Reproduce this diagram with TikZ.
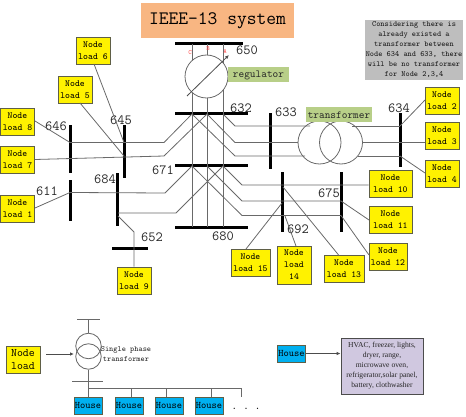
\documentclass[tikz,border=0pt]{standalone}
\usepackage{fontspec}
\usepackage{tikz}
\usetikzlibrary{arrows.meta}
\newcommand{\simfont}{\ttfamily}
\newfontfamily\timesfont{Liberation Serif}
\newcommand{\fsize}[2]{\fontsize{#1}{#2}\selectfont}
\definecolor{titleorange}{RGB}{248,182,130}
\definecolor{tagGreen}{RGB}{184,207,136}
\definecolor{noteGray}{RGB}{190,190,190}
\definecolor{houseBlue}{RGB}{0,176,240}
\definecolor{listPurple}{RGB}{208,200,224}
\definecolor{wire}{RGB}{105,105,105}
\definecolor{boxedge}{RGB}{95,95,70}

\begin{document}
\begin{tikzpicture}[x=1pt,y=-1pt,
    hbar/.style={fill=black,inner sep=0pt,minimum height=3pt},
    vbar/.style={fill=black,inner sep=0pt,minimum width=3pt},
    busno/.style={font=\simfont\fsize{14}{14},text=black!85,inner sep=0pt},
    load/.style={draw=boxedge,thick,fill=yellow,inner sep=0pt,align=center,minimum height=27pt,font=\simfont\fsize{9.3}{12}},
    tag/.style={fill=tagGreen,inner sep=0pt,minimum height=15pt,font=\simfont\fsize{10.8}{11},text=black!85},
    house/.style={draw=boxedge,fill=houseBlue,inner sep=0pt,minimum width=28pt,minimum height=17pt,font=\simfont\fsize{10}{10}},
    wire/.style={draw=wire,line width=0.8pt},
    arr/.style={draw=black!70,line width=0.8pt,-{Latex[length=4pt,width=3.5pt]}}]
    \useasboundingbox (0,0) rectangle (466,417);

    % title and note
    \node[fill=titleorange,inner sep=0pt,minimum width=153pt,minimum height=35pt,font=\simfont\fsize{19}{20}] (title) at (217.5,20.5) {IEEE-13 system};
    \node[fill=noteGray,inner sep=0pt,minimum width=98pt,minimum height=60pt,align=center,font=\simfont\fsize{7.9}{10},text=black!90] (note) at (414,50) {Considering there is\\already existed a\\transformer between\\Node 634 and 633, there\\will be no transformer\\for Node 2,3,4};

    % buses
    \node[hbar,minimum width=68pt] (b650) at (209,44) {};
    \node[hbar,minimum width=73pt] (b632) at (211.5,114) {};
    \node[hbar,minimum width=73pt] (b671) at (211.5,166) {};
    \node[hbar,minimum width=73pt] (b680) at (211.5,227) {};
    \node[hbar,minimum width=36pt] (b652) at (130,248) {};
    \node[vbar,minimum height=56pt] (b633) at (270,141) {};
    \node[vbar,minimum height=54pt] (b634) at (400,140) {};
    \node[vbar,minimum height=60pt] (b692) at (282,202) {};
    \node[vbar,minimum height=60pt] (b675) at (341,202) {};
    \node[vbar,minimum height=48pt] (b646) at (70,149) {};
    \node[vbar,minimum height=41pt] (b611) at (70,200.5) {};
    \node[vbar,minimum height=53pt] (b645) at (124,151.5) {};
    \node[vbar,minimum height=53pt] (b684) at (117,199.5) {};

    % bus numbers
    \node[busno] (n650) at (247,50) {650};
    \node[busno] (n632) at (241,108) {632};
    \node[busno] (n633) at (286,112) {633};
    \node[busno] (n634) at (399,108) {634};
    \node[busno] (n671) at (163,170) {671};
    \node[busno] (n680) at (223,236) {680};
    \node[busno] (n675) at (329,193) {675};
    \node[busno] (n692) at (298,229) {692};
    \node[busno] (n646) at (56,126) {646};
    \node[busno] (n645) at (121,120) {645};
    \node[busno] (n611) at (47,191) {611};
    \node[busno] (n684) at (105,179) {684};
    \node[busno] (n652) at (152,237) {652};

    % node loads
    \node[load,minimum width=34pt] (l1) at (17.5,208.5) {Node\\load 1};
    \node[load,minimum width=34pt] (l2) at (442,100.5) {Node\\load 2};
    \node[load,minimum width=34pt] (l3) at (442,136) {Node\\load 3};
    \node[load,minimum width=34pt] (l4) at (442,173.5) {Node\\load 4};
    \node[load,minimum width=34pt] (l5) at (75,89.5) {Node\\load 5};
    \node[load,minimum width=34pt] (l6) at (93,50.5) {Node\\load 6};
    \node[load,minimum width=34pt] (l7) at (17.5,159.5) {Node\\load 7};
    \node[load,minimum width=34pt] (l8) at (17.5,122) {Node\\load 8};
    \node[load,minimum width=34pt] (l9) at (134,280.5) {Node\\load 9};
    \node[load,minimum width=43pt] (l10) at (390.5,184) {Node\\load 10};
    \node[load,minimum width=43pt] (l11) at (390.5,219.5) {Node\\load 11};
    \node[load,minimum width=38pt] (l12) at (388,256.5) {Node\\load 12};
    \node[load,minimum width=40pt] (l13) at (344,269) {Node\\load 13};
    \node[load,minimum width=34pt,minimum height=38pt] (l14) at (294,265) {Node\\load\\14};
    \node[load,minimum width=39pt] (l15) at (250.5,262.5) {Node\\load 15};

    % phase and junction points
    \coordinate (pc) at (192,44);
    \coordinate (pb) at (207,44);
    \coordinate (pa) at (223,44);
    \coordinate (qc) at (192,227);
    \coordinate (qb) at (207,227);
    \coordinate (qa) at (223,227);
    \coordinate (j1c) at (192,114);
    \coordinate (j1b) at (207,114);
    \coordinate (j1a) at (223,114);
    \coordinate (j2c) at (192,166);
    \coordinate (j2b) at (207,166);
    \coordinate (j2a) at (223,166);
    \coordinate (w1) at (164,142.5);
    \coordinate (w2) at (164,156);
    \coordinate (w3) at (165,193);
    \coordinate (w4) at (176,213);
    \coordinate (e1) at (235,126);
    \coordinate (e2) at (235,142.5);
    \coordinate (e3) at (235,156);
    \coordinate (f1) at (242,185);
    \coordinate (f2) at (242,201);
    \coordinate (f3) at (242,215.5);
    \coordinate (t1) at (310,126);
    \coordinate (t2) at (298,142.5);
    \coordinate (t3) at (305,156);
    \coordinate (u1) at (352,126);
    \coordinate (u2) at (362.5,142.5);
    \coordinate (u3) at (358,156);
    \coordinate (v1) at (400,126);
    \coordinate (v3) at (400,156);
    \coordinate (k646) at (70,142.5);
    \coordinate (k645a) at (124,142.5);
    \coordinate (k645b) at (124,156);
    \coordinate (k611) at (70,192.5);
    \coordinate (k684a) at (118,213);
    \coordinate (k684b) at (118,216);
    \coordinate (k652) at (134,232);
    \coordinate (k675a) at (341,201);
    \coordinate (k675b) at (341,215.5);
    \coordinate (k692a) at (283,187);
    \coordinate (k692b) at (285,216);
    \coordinate (k692c) at (282,203);
    \coordinate (s8) at (35,121);
    \coordinate (s1) at (35,208);
    \coordinate (s13) at (339,255.5);
    \coordinate (s14) at (296,246);
    \coordinate (s15) at (246,249);
    \coordinate (s5) at (80,103);
    \coordinate (s6) at (94,64);
    \coordinate (s2) at (425,100);
    \coordinate (s4) at (425,173);
    \coordinate (s11) at (369,220);
    \coordinate (s12) at (369,255);
    \coordinate (d1) at (187,96);
    \coordinate (d2) at (229,55);

    % wires
    \draw[wire] (pc) -- (qc);
    \draw[wire] (pb) -- (qb);
    \draw[wire] (pa) -- (qa);
    \draw[wire] (j1c) -- (w1) -- (k646);
    \draw[wire] (j1b) -- (w2) -- (l7.east);
    \draw[wire] (j1a) -- (e1) -- (t1);
    \draw[wire] (j1b) -- (e2) -- (t2);
    \draw[wire] (j1c) -- (e3) -- (t3);
    \draw[wire] (u1) -- (v1);
    \draw[wire] (u2) -- (l3.west |- u2);
    \draw[wire] (u3) -- (v3);
    \draw[wire] (j2c) -- (w3) -- (k611);
    \draw[wire] (j2a) -- (w4) -- (k684a);
    \draw[wire] (j2a) -- (f1) -- (l10.west |- f1);
    \draw[wire] (j2b) -- (f2) -- (k675a);
    \draw[wire] (j2c) -- (f3) -- (k675b);
    \draw[wire] (s8) -- (k646);
    \draw[wire] (s1) -- (k611);
    \draw[wire] (s5) -- (k645b);
    \draw[wire] (s6) -- (k645a);
    \draw[wire] (k684b) -- (k652) -- (l9.north);
    \draw[wire] (v1) -- (s2);
    \draw[wire] (v3) -- (s4);
    \draw[wire] (k675a) -- (s11);
    \draw[wire] (k675b) -- (s12);
    \draw[wire] (k692a) -- (s13);
    \draw[wire] (k692b) -- (s14);
    \draw[wire] (k692c) -- (s15);

    % regulator
    \node[circle,draw=wire,line width=0.8pt,fill=white,minimum size=43pt,inner sep=0pt] (reg) at (206.5,76.5) {};
    \draw[arr] (d1) -- (d2);
    \node[tag,minimum width=61pt] (regtag) at (258.5,75) {regulator};
    \node[red!70,font=\simfont\fsize{6.5}{7},inner sep=0pt] (pC) at (190,53) {C};
    \node[red!70,font=\simfont\fsize{6.5}{7},inner sep=0pt] (pB) at (208,49) {B};
    \node[red!70,font=\simfont\fsize{6.5}{7},inner sep=0pt] (pA) at (225,51) {A};

    % transformer
    \node[circle,draw=wire,line width=0.8pt,minimum size=43pt,inner sep=0pt] (tr1) at (319.5,142.5) {};
    \node[circle,draw=wire,line width=0.8pt,minimum size=43pt,inner sep=0pt] (tr2) at (341,142.5) {};
    \node[tag,minimum width=66pt] (trtag) at (339,115) {transformer};

    % single phase part
    \node[load,minimum width=34pt,font=\simfont\fsize{11.5}{13}] (lnode) at (23,359.5) {Node\\load};
    \node[circle,draw=wire,line width=0.8pt,minimum size=25.5pt,inner sep=0pt] (sp1) at (88.5,346) {};
    \node[circle,draw=wire,line width=0.8pt,minimum size=25.5pt,inner sep=0pt] (sp2) at (88.5,356.5) {};
    \node[hbar,minimum height=1pt,fill=wire,minimum width=23pt] (top) at (88.5,319) {};
    \node[hbar,minimum height=1pt,fill=wire,minimum width=31pt] (low) at (87.5,381) {};
    \node[align=center,inner sep=0pt,font=\simfont\fsize{7.9}{10},text=black!85] (sptext) at (126,354) {Single phase\\transformer};
    \node[house] (h1) at (88,405.5) {House};
    \node[house] (h2) at (129,405.5) {House};
    \node[house] (h3) at (169,405.5) {House};
    \node[house] (h4) at (209,405.5) {House};
    \node[inner sep=0pt,font=\simfont\bfseries\fsize{9.5}{10}] (dots) at (246,408.5) {. . .};
    \coordinate (r0) at (88.5,388);
    \coordinate (r1) at (131,388);
    \coordinate (r2) at (166,388);
    \coordinate (r3) at (211,388);
    \coordinate (r4) at (241.5,388);
    \coordinate (r5) at (241.5,397);
    \coordinate (a1) at (46,354);
    \coordinate (a2) at (74,354);
    \draw[arr] (a1) -- (a2);
    \draw[wire] (top) -- (sp1);
    \draw[wire] (sp2) -- (h1.north -| sp2);
    \draw[wire] (r0) -- (r4) -- (r5);
    \draw[wire] (r1) -- (h2.north -| r1);
    \draw[wire] (r2) -- (h3.north -| r2);
    \draw[wire] (r3) -- (h4.north -| r3);

    % house contents
    \node[house] (hh) at (291.5,353.5) {House};
    \node[draw=black!70,thick,fill=listPurple,inner sep=0pt,minimum width=82pt,minimum height=56pt,align=center,font=\timesfont\fsize{7.6}{10},text=black!85] (hlist) at (382,366) {HVAC, freezer, lights,\\dryer, range,\\microwave oven,\\refrigerator,solar panel,\\battery, clothwasher};
    \draw[arr] (hh) -- (hlist.west |- hh);
\end{tikzpicture}
\end{document}
